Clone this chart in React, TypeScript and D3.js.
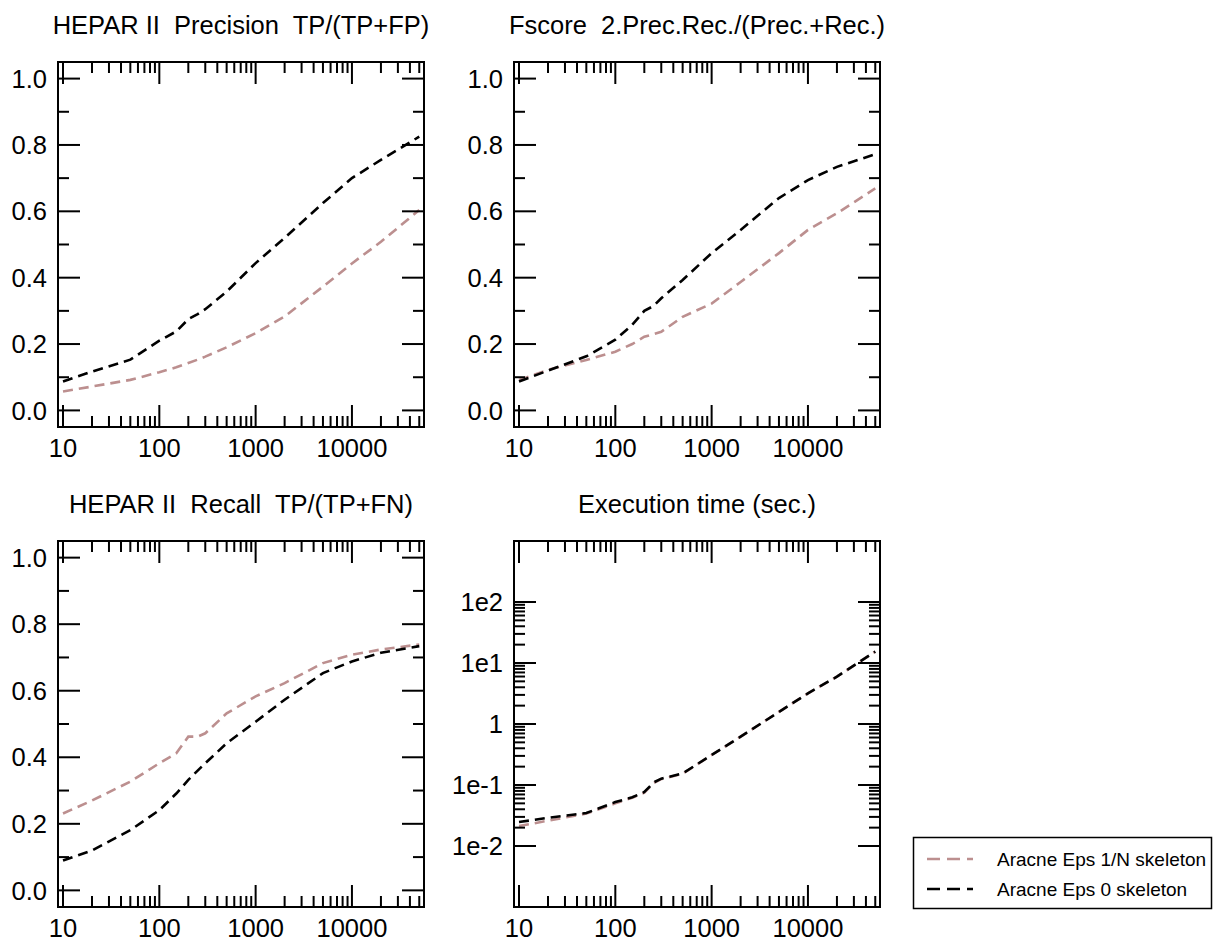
import React from "react";
import * as d3 from "d3";

const sampleSizes = [10, 20, 50, 100, 150, 200, 250, 300, 500, 1000, 2000, 5000, 10000, 20000, 50000];

const precisionEps1N = [0.057, 0.072, 0.092, 0.115, 0.13, 0.143, 0.153, 0.162, 0.19, 0.233, 0.283, 0.373, 0.443, 0.508, 0.604];
const precisionEps0 = [0.087, 0.117, 0.153, 0.21, 0.238, 0.275, 0.29, 0.305, 0.358, 0.444, 0.52, 0.625, 0.7, 0.755, 0.825];

const fscoreEps1N = [0.092, 0.122, 0.152, 0.177, 0.2, 0.222, 0.23, 0.237, 0.282, 0.322, 0.387, 0.474, 0.544, 0.594, 0.669];
const fscoreEps0 = [0.087, 0.12, 0.163, 0.213, 0.258, 0.3, 0.315, 0.338, 0.393, 0.474, 0.544, 0.64, 0.694, 0.734, 0.772];

const recallEps1N = [0.231, 0.27, 0.327, 0.382, 0.412, 0.462, 0.462, 0.472, 0.532, 0.583, 0.623, 0.683, 0.708, 0.724, 0.739];
const recallEps0 = [0.09, 0.12, 0.181, 0.241, 0.291, 0.332, 0.36, 0.382, 0.442, 0.507, 0.573, 0.653, 0.688, 0.714, 0.734];

const timeEps1N = [0.0212, 0.026, 0.034, 0.05, 0.062, 0.075, 0.108, 0.125, 0.153, 0.31, 0.62, 1.58, 3.18, 5.97, 15.4];
const timeEps0 = [0.0247, 0.029, 0.0347, 0.0525, 0.063, 0.0767, 0.11, 0.127, 0.155, 0.31, 0.62, 1.58, 3.18, 5.97, 15.4];

const xTickValues = [10, 100, 1000, 10000];
const xTickLabels = ["10", "100", "1000", "10000"];
const linTickValues = [0, 0.2, 0.4, 0.6, 0.8, 1.0];
const linTickLabels = ["0.0", "0.2", "0.4", "0.6", "0.8", "1.0"];
const logTickValues = [1e-2, 1e-1, 1, 1e1, 1e2];
const logTickLabels = ["1e-2", "1e-1", "1", "1e1", "1e2"];

const seriesNames = ["Aracne Eps 1/N skeleton", "Aracne Eps 0 skeleton"];
const seriesColors = ["#bc8f8f", "#000000"];

const FONT = "'Liberation Sans', Arial, Helvetica, sans-serif";
const DASH = "10,6";

type PanelProps = {
  x0: number; x1: number; y0: number; y1: number;
  title: string;
  series: number[][];
  logY?: boolean;
};

function Panel({ x0, x1, y0, y1, title, series, logY }: PanelProps) {
  const xs = d3.scaleLog().domain([8.87, 56000]).range([x0, x1]);
  const ys: any = logY
    ? d3.scaleLog().domain([1e-3, 1e3]).range([y1, y0])
    : d3.scaleLinear().domain([-0.05, 1.05]).range([y1, y0]);

  const majorLen = 22;
  const minorLen = 11;

  const xMinor: number[] = [];
  for (let dec = 10; dec <= 10000; dec *= 10) {
    for (let m = 2; m <= 9; m++) {
      const v = m * dec;
      if (v <= 50000) xMinor.push(v);
    }
  }

  let yMajor: number[];
  let yLabels: string[];
  let yMinor: number[] = [];
  if (logY) {
    yMajor = logTickValues;
    yLabels = logTickLabels;
    for (let dec = 1e-2; dec < 1e2 * 0.99; dec *= 10) {
      for (let m = 2; m <= 9; m++) yMinor.push(m * dec);
    }
  } else {
    yMajor = linTickValues;
    yLabels = linTickLabels;
    yMinor = [0.1, 0.3, 0.5, 0.7, 0.9];
  }

  const line = d3
    .line<number>()
    .x((_, i) => xs(sampleSizes[i]))
    .y((d) => ys(d));

  const tickStyle = { stroke: "#000", strokeWidth: 2 };

  return (
    <g>
      <text x={(x0 + x1) / 2} y={y0 - 28} textAnchor="middle" fontFamily={FONT} fontSize={25.5} fill="#000" style={{ whiteSpace: "pre" }}>
        {title}
      </text>
      {series.map((s, i) => (
        <path key={i} d={line(s) || ""} fill="none" stroke={seriesColors[i]} strokeWidth={2.6} strokeDasharray={DASH} />
      ))}
      {xTickValues.map((v) => (
        <g key={"xm" + v}>
          <line x1={xs(v)} x2={xs(v)} y1={y1} y2={y1 - majorLen} {...tickStyle} />
          <line x1={xs(v)} x2={xs(v)} y1={y0} y2={y0 + majorLen} {...tickStyle} />
        </g>
      ))}
      {xMinor.map((v) => (
        <g key={"xn" + v}>
          <line x1={xs(v)} x2={xs(v)} y1={y1} y2={y1 - minorLen} {...tickStyle} />
          <line x1={xs(v)} x2={xs(v)} y1={y0} y2={y0 + minorLen} {...tickStyle} />
        </g>
      ))}
      {yMajor.map((v) => (
        <g key={"ym" + v}>
          <line x1={x0} x2={x0 + majorLen} y1={ys(v)} y2={ys(v)} {...tickStyle} />
          <line x1={x1} x2={x1 - majorLen} y1={ys(v)} y2={ys(v)} {...tickStyle} />
        </g>
      ))}
      {yMinor.map((v) => (
        <g key={"yn" + v}>
          <line x1={x0} x2={x0 + minorLen} y1={ys(v)} y2={ys(v)} {...tickStyle} />
          <line x1={x1} x2={x1 - minorLen} y1={ys(v)} y2={ys(v)} {...tickStyle} />
        </g>
      ))}
      <rect x={x0} y={y0} width={x1 - x0} height={y1 - y0} fill="none" stroke="#000" strokeWidth={2} />
      {xTickValues.map((v, i) => (
        <text key={"xl" + v} x={xs(v)} y={y1 + 30} textAnchor="middle" fontFamily={FONT} fontSize={25.5} fill="#000">
          {xTickLabels[i]}
        </text>
      ))}
      {yMajor.map((v, i) => (
        <text key={"yl" + v} x={x0 - 11} y={ys(v)} dy="0.36em" textAnchor="end" fontFamily={FONT} fontSize={25.5} fill="#000">
          {yLabels[i]}
        </text>
      ))}
    </g>
  );
}

export default function App() {
  const W = 1217;
  const H = 941;
  return (
    <svg width={W} height={H} style={{ position: "absolute", left: 0, top: 0, background: "#fff" }}>
      <rect x={0} y={0} width={W} height={H} fill="#fff" />
      <Panel x0={58} x1={424} y0={62} y1={427} title="HEPAR II  Precision  TP/(TP+FP)" series={[precisionEps1N, precisionEps0]} />
      <Panel x0={514} x1={880} y0={62} y1={427} title="Fscore  2.Prec.Rec./(Prec.+Rec.)" series={[fscoreEps1N, fscoreEps0]} />
      <Panel x0={58} x1={424} y0={541} y1={907} title="HEPAR II  Recall  TP/(TP+FN)" series={[recallEps1N, recallEps0]} />
      <Panel x0={514} x1={880} y0={541} y1={907} title="Execution time (sec.)" series={[timeEps1N, timeEps0]} logY />
      <g>
        <rect x={913.5} y={837.5} width={298} height={71} fill="#fff" stroke="#000" strokeWidth={1.5} />
        {seriesNames.map((name, i) => (
          <g key={name}>
            <line x1={927} x2={973} y1={859 + i * 30} y2={859 + i * 30} stroke={seriesColors[i]} strokeWidth={2.6} strokeDasharray="13,7" />
            <text x={997} y={859 + i * 30} dy="0.36em" fontFamily={FONT} fontSize={19} fill="#000">
              {name}
            </text>
          </g>
        ))}
      </g>
    </svg>
  );
}
